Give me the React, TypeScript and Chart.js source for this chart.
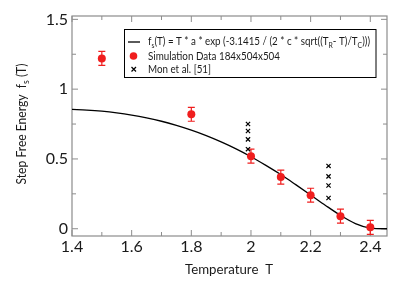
import React, { useEffect, useRef } from 'react';
import { Chart, registerables } from 'chart.js';
Chart.register(...registerables);

// ---- data ----
const simT = [1.5, 1.8, 2.0, 2.1, 2.2, 2.3, 2.4];
const simF = [1.22, 0.82, 0.52, 0.37, 0.24, 0.09, 0.01];
const simErr = [0.05, 0.05, 0.05, 0.05, 0.05, 0.05, 0.05];

const monT = [1.99, 1.99, 1.99, 1.99, 2.26, 2.26, 2.26, 2.26];
const monF = [0.75, 0.70, 0.64, 0.57, 0.45, 0.375, 0.31, 0.22];

const fitT = [1.4, 1.45, 1.5, 1.55, 1.6, 1.65, 1.7, 1.75, 1.8, 1.85, 1.9, 1.95, 2.0, 2.05, 2.1, 2.15, 2.2, 2.25, 2.3, 2.35, 2.4, 2.42, 2.45, 2.456];
const fitF = [0.855, 0.850, 0.842, 0.830, 0.814, 0.794, 0.770, 0.740, 0.706, 0.667, 0.622, 0.572, 0.516, 0.454, 0.388, 0.316, 0.242, 0.167, 0.096, 0.037, 0.004, 0.0005, 0, 0];

const xLabelTicks = [1.4, 1.6, 1.8, 2.0, 2.2, 2.4];
const xMinorTicks = [1.5, 1.7, 1.9, 2.1, 2.3];
const yLabelTicks = [0, 0.5, 1, 1.5];
const yMinorTicks = [0.25, 0.75, 1.25];

const X_MIN = 1.4, X_MAX = 2.456, Y_MIN = -0.052, Y_MAX = 1.524;

const RED = '#f01e1e';
const TEXT = '#1a1a1a';
const FONT = 'Lato, "Open Sans", sans-serif';

type Part = [string, boolean?];

function drawRich(ctx: CanvasRenderingContext2D, parts: Part[], x: number, y: number, size: number, align: 'left' | 'center' = 'left', width?: number) {
  const subSize = Math.round(size * 0.68);
  let total = 0;
  for (const [t, sub] of parts) {
    ctx.font = `${sub ? subSize : size}px ${FONT}`;
    total += ctx.measureText(t).width;
  }
  const sx = width ? width / total : 1;
  const drawnW = total * sx;
  const startX = align === 'center' ? x - drawnW / 2 : x;
  ctx.save();
  ctx.translate(startX, y);
  ctx.scale(sx, 1);
  ctx.textBaseline = 'middle';
  ctx.textAlign = 'left';
  let cx = 0;
  for (const [t, sub] of parts) {
    ctx.font = `${sub ? subSize : size}px ${FONT}`;
    ctx.fillText(t, cx, sub ? size * 0.32 : 0);
    cx += ctx.measureText(t).width;
  }
  ctx.restore();
}

const decorPlugin = {
  id: 'decor',
  beforeDatasetsDraw(chart: any) {
    const ctx: CanvasRenderingContext2D = chart.ctx;
    const { left, right, top, bottom } = chart.chartArea;
    const xs = chart.scales.x, ys = chart.scales.y;
    ctx.save();
    ctx.strokeStyle = '#8c8c8c';
    ctx.lineWidth = 1.2;
    ctx.strokeRect(left, top, right - left, bottom - top);
    ctx.lineWidth = 1;
    const tick = (vals: number[], len: number, axis: 'x' | 'y') => {
      for (const v of vals) {
        ctx.beginPath();
        if (axis === 'x') {
          const px = xs.getPixelForValue(v);
          ctx.moveTo(px, bottom); ctx.lineTo(px, bottom - len);
          ctx.moveTo(px, top); ctx.lineTo(px, top + len);
        } else {
          const py = ys.getPixelForValue(v);
          ctx.moveTo(left, py); ctx.lineTo(left + len, py);
          ctx.moveTo(right, py); ctx.lineTo(right - len, py);
        }
        ctx.stroke();
      }
    };
    tick(xLabelTicks, 6, 'x');
    tick(xMinorTicks, 4, 'x');
    tick(yLabelTicks, 6, 'y');
    tick(yMinorTicks, 4, 'y');

    // error bars
    ctx.strokeStyle = RED;
    ctx.lineWidth = 1.2;
    simT.forEach((t, i) => {
      const px = xs.getPixelForValue(t);
      const y1 = ys.getPixelForValue(simF[i] - simErr[i]);
      const y2 = ys.getPixelForValue(simF[i] + simErr[i]);
      ctx.beginPath();
      ctx.moveTo(px, y1); ctx.lineTo(px, y2);
      ctx.moveTo(px - 3.5, y1); ctx.lineTo(px + 3.5, y1);
      ctx.moveTo(px - 3.5, y2); ctx.lineTo(px + 3.5, y2);
      ctx.stroke();
    });
    ctx.restore();
  },
  afterDraw(chart: any) {
    const ctx: CanvasRenderingContext2D = chart.ctx;
    ctx.save();
    // legend box
    const bx = 124.5, by = 29.5, bw = 251.5, bh = 48;
    ctx.fillStyle = '#fff';
    ctx.fillRect(bx, by, bw, bh);
    ctx.strokeStyle = '#000';
    ctx.lineWidth = 1;
    ctx.strokeRect(bx, by, bw, bh);
    ctx.fillStyle = TEXT;
    // row 1
    ctx.strokeStyle = '#000';
    ctx.lineWidth = 1.3;
    ctx.beginPath(); ctx.moveTo(128, 42); ctx.lineTo(140, 42); ctx.stroke();
    drawRich(ctx, [['f'], ['s', true], ['(T) = T * a * exp (-3.1415 / (2 * c * sqrt((T'], ['R', true], ['- T)/T'], ['C', true], [')))']], 148, 41.7, 11.5, 'left', 222);
    // row 2
    ctx.fillStyle = RED;
    ctx.beginPath(); ctx.arc(133.5, 56, 3.8, 0, Math.PI * 2); ctx.fill();
    ctx.fillStyle = TEXT;
    drawRich(ctx, [['Simulation Data 184x504x504']], 148, 56, 11.5, 'left', 132);
    // row 3
    ctx.strokeStyle = '#000';
    ctx.lineWidth = 1.2;
    ctx.beginPath();
    ctx.moveTo(131.5, 67); ctx.lineTo(136, 71.5);
    ctx.moveTo(136, 67); ctx.lineTo(131.5, 71.5);
    ctx.stroke();
    drawRich(ctx, [['Mon et al. [51]']], 148, 69.3, 11.5, 'left', 63);

    // axis titles
    ctx.fillStyle = TEXT;
    drawRich(ctx, [['Temperature  T']], 229, 270, 13, 'center', 88);
    ctx.translate(22, 124);
    ctx.rotate(-Math.PI / 2);
    drawRich(ctx, [['Step Free Energy  f'], ['s', true], [' (T)']], 0, 0, 12.5, 'center', 121);
    ctx.restore();
  },
};

export default function App() {
  const ref = useRef<HTMLCanvasElement>(null);
  useEffect(() => {
    if (!ref.current) return;
    const chart = new Chart(ref.current, {
      type: 'scatter',
      data: {
        datasets: [
          {
            label: 'fit',
            data: fitT.map((t, i) => ({ x: t, y: fitF[i] })),
            showLine: true,
            pointRadius: 0,
            borderColor: '#000',
            borderWidth: 1.3,
            cubicInterpolationMode: 'monotone',
            order: 3,
          } as any,
          {
            label: 'Simulation Data 184x504x504',
            data: simT.map((t, i) => ({ x: t, y: simF[i] })),
            pointRadius: 4,
            backgroundColor: RED,
            borderColor: RED,
            borderWidth: 0,
            order: 1,
          },
          {
            label: 'Mon et al. [51]',
            data: monT.map((t, i) => ({ x: t, y: monF[i] })),
            pointStyle: 'crossRot',
            pointRadius: 3,
            borderColor: '#000',
            borderWidth: 1.2,
            order: 2,
          },
        ],
      },
      options: {
        responsive: false,
        animation: false,
        events: [],
        layout: { padding: { left: 0, top: 16, right: 13, bottom: 0 } },
        plugins: { legend: { display: false }, tooltip: { enabled: false } },
        scales: {
          x: {
            type: 'linear',
            min: X_MIN,
            max: X_MAX,
            grid: { display: false, drawTicks: false },
            border: { display: false },
            afterBuildTicks: (s: any) => { s.ticks = xLabelTicks.map((v) => ({ value: v })); },
            afterFit: (s: any) => { s.height = 50; },
            ticks: {
              padding: 1,
              color: TEXT,
              font: { family: FONT, size: 16 },
              maxRotation: 0,
              callback: (v: any) => String(Number(v)),
            },
          },
          y: {
            type: 'linear',
            min: Y_MIN,
            max: Y_MAX,
            grid: { display: false, drawTicks: false },
            border: { display: false },
            afterBuildTicks: (s: any) => { s.ticks = yLabelTicks.map((v) => ({ value: v })); },
            afterFit: (s: any) => { s.width = 72; },
            ticks: {
              padding: 4,
              color: TEXT,
              font: { family: FONT, size: 16 },
              callback: (v: any) => String(Number(v)),
            },
          },
        },
      },
      plugins: [decorPlugin],
    });
    return () => chart.destroy();
  }, []);
  return (
    <div style={{ position: 'fixed', left: 0, top: 0, width: 400, height: 286, background: '#fff' }}>
      <canvas ref={ref} width={400} height={286} style={{ display: 'block', width: 400, height: 286 }} />
    </div>
  );
}
